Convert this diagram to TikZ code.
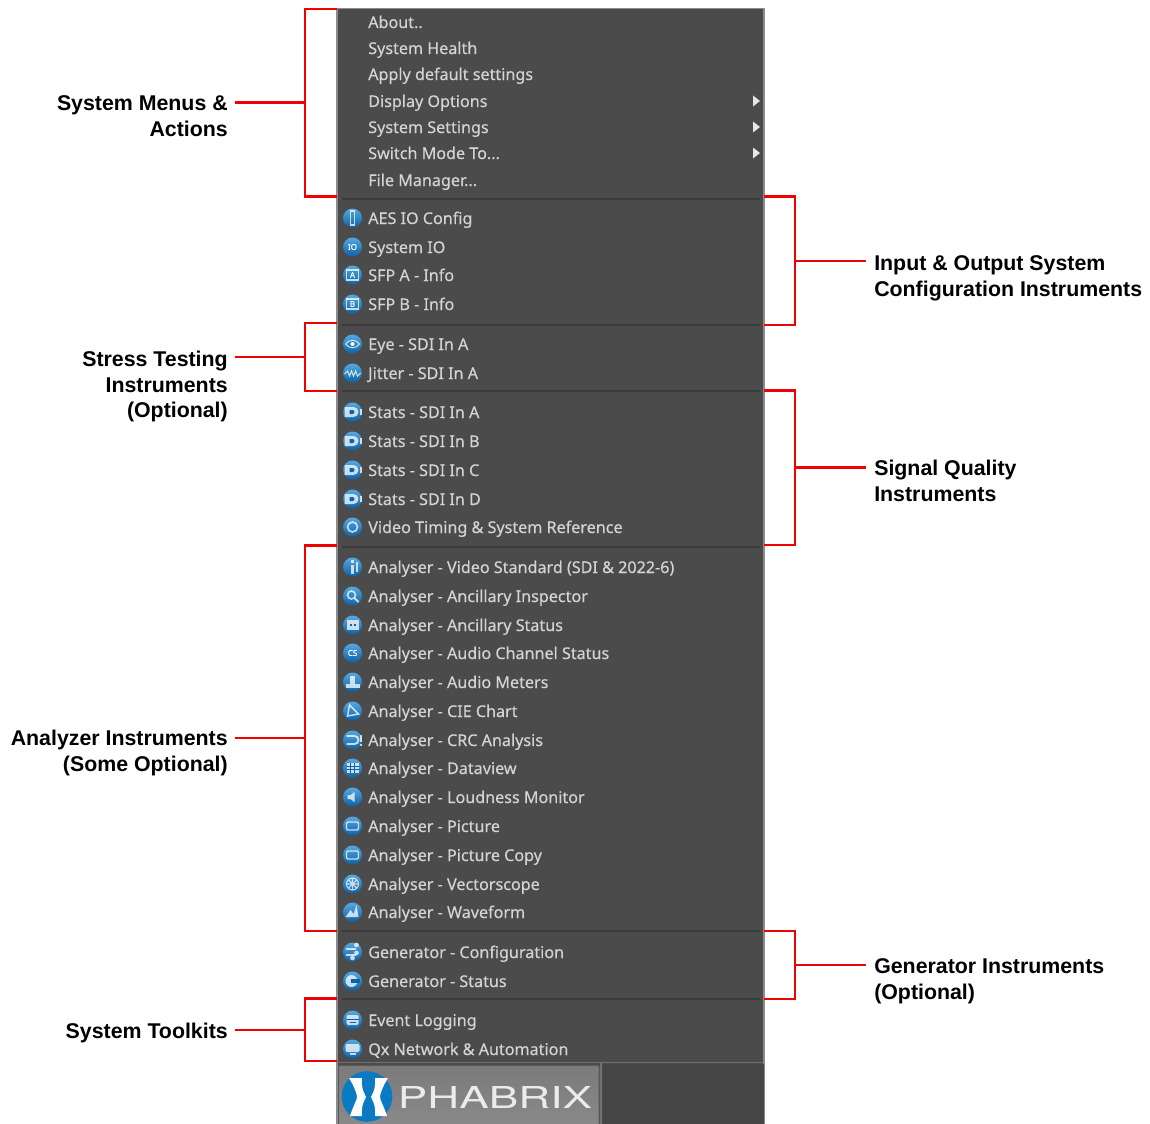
\documentclass[tikz,border=0pt]{standalone}
\usepackage{fontspec}
\usepackage{graphicx}
\setmainfont{Liberation Sans}
\newfontfamily\menufont[FakeBold=0.25]{Noto Sans}
\newfontfamily\logofont{TeX Gyre Heros}
\definecolor{panel}{HTML}{4B4B4B}
\definecolor{panelb}{HTML}{454545}
\definecolor{edge}{HTML}{8C8C8C}
\definecolor{sepc}{HTML}{3A3A3A}
\definecolor{menut}{HTML}{D4D4D4}
\definecolor{ballt}{HTML}{55A8DE}
\definecolor{ballb}{HTML}{0D62A6}
\definecolor{logob}{HTML}{0A7BC2}
\definecolor{redl}{HTML}{F00000}
\newcommand{\tdd}{...}
\newcommand{\tdt}{..}
\tikzset{
  redline/.style={draw=redl,line width=2.2pt},
  calltext/.style={font=\fontsize{16}{19.4}\selectfont\bfseries,text=black,inner sep=0pt,align=left},
  calltextr/.style={calltext,align=right},
  menuitem/.style={font=\fontsize{12.1}{15}\selectfont\menufont,text=menut,inner sep=0pt,anchor=base west},
  iconball/.style={circle,minimum size=14.2pt,inner sep=0pt,top color=ballt,bottom color=ballb,draw=none},
  sepline/.style={draw=sepc,line width=1.5pt},
  glyph/.style={fill=white,draw=none,opacity=.75},
  glyphl/.style={draw=white,line width=.8pt,opacity=.75,fill=none},
  glyphtext/.style={font=\fontsize{6}{6}\selectfont\bfseries\menufont,text=white,inner sep=0pt}
}
\newcommand{\glnone}{}
\newcommand{\glbar}{\draw[glyphl] (-2,-7) rectangle (2,7);}
\newcommand{\gltxt}[1]{\node[glyphtext] at (0,0) {#1};}
\newcommand{\glio}{\gltxt{IO}}
\newcommand{\glsa}{\draw[glyphl] (-6,-5) rectangle (6,5);\gltxt{A}}
\newcommand{\glsb}{\draw[glyphl] (-6,-5) rectangle (6,5);\gltxt{B}}
\newcommand{\gleye}{\draw[glyphl] (-7,0) .. controls (-3,-5) and (3,-5) .. (7,0) .. controls (3,5) and (-3,5) .. (-7,0);\fill[white] (0,0) circle (2);}
\newcommand{\glwave}{\draw[glyphl] (-8,1) -- (-5,-2) -- (-3,3) -- (-1,-2) -- (1,3) -- (3,-2) -- (5,3) -- (8,0);}
\newcommand{\glstat}{\fill[glyph] (-8,-5) -- (1,-5) arc (-90:90:5) -- (-8,5) -- cycle;\fill[ballb] (-3,-2) -- (0,-2) arc (-90:90:2) -- (-3,2) -- cycle;\fill[glyph] (7,-3) rectangle (9,3);}
\newcommand{\glvt}{\draw[glyphl,line width=1.2pt] (0,0) circle (5);}
\newcommand{\glinfo}{\fill[glyph] (-1.5,-7) rectangle (1.5,-4);\fill[glyph] (-1.5,-2) rectangle (1.5,7);\fill[glyph] (3,-5) rectangle (5,5);}
\newcommand{\glmag}{\draw[glyphl,line width=1.2pt] (-1,-1) circle (4);\draw[glyphl,line width=1.4pt] (2,2) -- (6,6);}
\newcommand{\gldots}{\fill[glyph] (-6,-5) rectangle (6,5);\fill[ballb] (-3,-1) rectangle (-1,1);\fill[ballb] (1,-1) rectangle (3,1);}
\newcommand{\glcs}{\gltxt{CS}}
\newcommand{\glmeter}{\fill[glyph] (-7,2) rectangle (7,6);\fill[glyph] (-3,-6) rectangle (2,2);}
\newcommand{\glcie}{\draw[glyphl,line width=1.1pt] (-5,5) -- (-3,-6) -- (6,3) -- cycle;}
\newcommand{\glcrc}{\draw[glyphl,line width=1.4pt] (-6,-4) -- (2,-4) arc (-90:90:4) -- (-6,4);\fill[glyph] (7,-5) rectangle (9,2);\fill[glyph] (7,3.5) rectangle (9,6);}
\newcommand{\glgrid}{\fill[glyph] (-6,-5) rectangle (6,5);\draw[ballb,line width=.5pt] (-6,-1.5) -- (6,-1.5) (-6,1.5) -- (6,1.5) (-2,-5) -- (-2,5) (2,-5) -- (2,5);}
\newcommand{\glloud}{\fill[glyph] (-5,-2) -- (-2,-2) -- (2,-5) -- (2,5) -- (-2,2) -- (-5,2) -- cycle;}
\newcommand{\glpic}{\draw[glyphl,line width=1.1pt,rounded corners=1pt] (-6,-4) rectangle (6,4);}
\newcommand{\glvec}{\draw[glyphl] (0,0) circle (6) (-6,0) -- (6,0) (0,-6) -- (0,6) (-4,-4) -- (4,4) (-4,4) -- (4,-4);}
\newcommand{\glwfm}{\fill[glyph] (-7,5) -- (-2,-2) -- (1,2) -- (4,-7) -- (6,5) -- cycle;}
\newcommand{\glgcfg}{\draw[glyphl,line width=1.2pt] (-7,-3) -- (3,-3) (-7,3) -- (3,3);\fill[glyph] (4,-7) circle (2.4);\fill[glyph] (4,1) circle (2.4);\fill[glyph] (0,6) circle (2.4);}
\newcommand{\glgstat}{\fill[glyph] (-7,0) arc (180:-180:6);\fill[ballb] (-2,-2) rectangle (7,2);}
\newcommand{\gllog}{\fill[glyph,rounded corners=1pt] (-6,-5) rectangle (6,5);\draw[ballb,line width=.6pt] (-6,-.5) -- (6,-.5) (-3,2) -- (3,2);}
\newcommand{\glnet}{\fill[glyph,rounded corners=1pt] (-7,-5) rectangle (7,3);\fill[glyph] (-3,4) rectangle (3,6);}
\begin{document}
\begin{tikzpicture}[x=0.75pt,y=-0.75pt]
\useasboundingbox (0,0) rectangle (1150,1124);
% panel
\fill[panel] (337,9) rectangle (764,1124);
\draw[edge,line width=.9pt] (337,1124) -- (337,8.5) -- (764,8.5) -- (764,1124);
\fill[panelb] (603,1064) rectangle (763.5,1124);
\draw[edge!80!black,line width=1.4pt] (337,1062.5) -- (764,1062.5);
\draw[edge!80!black,line width=1.2pt] (601,1063) -- (601,1124);
% logo button
\node[draw=black!65,line width=.7pt,top color=black!52,bottom color=black!46,rounded corners=1pt,minimum width=195.5pt,minimum height=45pt,inner sep=0pt,anchor=north west] (logobtn) at (338,1065) {};
\node[circle,fill=logob,minimum size=38pt,inner sep=0pt] (logocircle) at (367,1096.5) {};
\fill[white] (349,1078) -- (362,1078) .. controls (361,1090) and (365,1094) .. (366,1097) .. controls (365,1100) and (361,1104) .. (362,1116) -- (350,1116) .. controls (354,1104) and (357,1100) .. (357,1097) .. controls (357,1094) and (354,1086) .. (349,1078) -- cycle;
\fill[white] (388,1078) -- (375,1078) .. controls (376,1090) and (372,1094) .. (371,1097) .. controls (372,1100) and (376,1104) .. (375,1116) -- (387,1116) .. controls (383,1104) and (380,1100) .. (380,1097) .. controls (380,1094) and (383,1086) .. (388,1078) -- cycle;
\node[inner sep=0pt,anchor=center,text=white!92!black] (logotext) at (495,1097) {\resizebox{145.5pt}{16.5pt}{\logofont PHABRIX}};
% separators
\foreach \n/\y in {a/198.5,b/324.5,c/390.5,d/547,e/931,f/999}
  \draw[sepline] (342,\y) -- (760,\y);
% plain items
\foreach \n/\y/\t in {1/22/About\tdt,2/48/System Health,3/74/Apply default settings,4/101/Display Options,5/127/System Settings,6/153/Switch Mode To\tdd,7/180/File Manager\tdd}
  \node[menuitem] (p\n) at (368,\y+6) {\t};
% submenu arrows
\foreach \y in {101,127,153}
  \fill[white!90!black] (753,\y-5.5) -- (760,\y) -- (753,\y+5.5) -- cycle;
% items with icons
\foreach \n/\y/\g/\t in {
 1/218/bar/AES IO Config,2/247/io/System IO,3/275/sa/SFP A - Info,4/304/sb/SFP B - Info,
 5/344/eye/Eye - SDI In A,6/373/wave/Jitter - SDI In A,
 7/412/stat/Stats - SDI In A,8/441/stat/Stats - SDI In B,9/470/stat/Stats - SDI In C,10/499/stat/Stats - SDI In D,11/527/vt/Video Timing \& System Reference,
 12/567/info/Analyser - Video Standard (SDI \& 2022-6),13/596/mag/Analyser - Ancillary Inspector,14/625/dots/Analyser - Ancillary Status,15/653/cs/Analyser - Audio Channel Status,16/682/meter/Analyser - Audio Meters,17/711/cie/Analyser - CIE Chart,18/740/crc/Analyser - CRC Analysis,19/768/grid/Analyser - Dataview,20/797/loud/Analyser - Loudness Monitor,21/826/pic/Analyser - Picture,22/855/pic/Analyser - Picture Copy,23/884/vec/Analyser - Vectorscope,24/912/wfm/Analyser - Waveform,
 25/952/gcfg/Generator - Configuration,26/981/gstat/Generator - Status,
 27/1020/log/Event Logging,28/1049/net/Qx Network \& Automation}{
  \node[iconball] (ic\n) at (352.5,\y) {};
  \begin{scope}[shift={(352.5,\y)}]
    \csname gl\g\endcsname
  \end{scope}
  \node[menuitem] (t\n) at (368,\y+6) {\t};
}
% labels
\node[calltextr,anchor=north east] (lsys) at (228,95.5) {System Menus \&\\Actions};
\node[calltextr,anchor=north east] (lstress) at (228,350.5) {Stress Testing\\Instruments\\(Optional)};
\node[calltextr,anchor=north east] (lana) at (228,730) {Analyzer Instruments\\(Some Optional)};
\node[calltextr,anchor=north east] (ltool) at (228,1022.5) {System Toolkits};
\node[calltext,anchor=north west] (lio) at (874,255.5) {Input \& Output System\\Configuration Instruments};
\node[calltext,anchor=north west] (lsig) at (874,459.5) {Signal Quality\\Instruments};
\node[calltext,anchor=north west] (lgen) at (874,958) {Generator Instruments\\(Optional)};
% bracket anchors
\coordinate (s1) at (235,102.5);\coordinate (b1) at (305,102.5);
\coordinate (s2) at (235,357);\coordinate (b2) at (305,357);
\coordinate (s3) at (235,738);\coordinate (b3) at (305,738);
\coordinate (s4) at (235,1030);\coordinate (b4) at (305,1030);
\coordinate (s5) at (866,261);\coordinate (b5) at (795,261);
\coordinate (s6) at (866,467.5);\coordinate (b6) at (795,467.5);
\coordinate (s7) at (866,965);\coordinate (b7) at (795,965);
% brackets
\draw[redline] (337,9) -| (305,196.5) -- (337,196.5);
\draw[redline] (s1) -- (b1);
\draw[redline] (337,323) -| (305,391) -- (337,391);
\draw[redline] (s2) -- (b2);
\draw[redline] (337,545.5) -| (305,931) -- (337,931);
\draw[redline] (s3) -- (b3);
\draw[redline] (337,998.5) -| (305,1061) -- (337,1061);
\draw[redline] (s4) -- (b4);
\draw[redline] (764,196.5) -| (795,325) -- (764,325);
\draw[redline] (s5) -- (b5);
\draw[redline] (764,390.5) -| (795,545) -- (764,545);
\draw[redline] (s6) -- (b6);
\draw[redline] (764,931) -| (795,999) -- (764,999);
\draw[redline] (s7) -- (b7);
\end{tikzpicture}
\end{document}
